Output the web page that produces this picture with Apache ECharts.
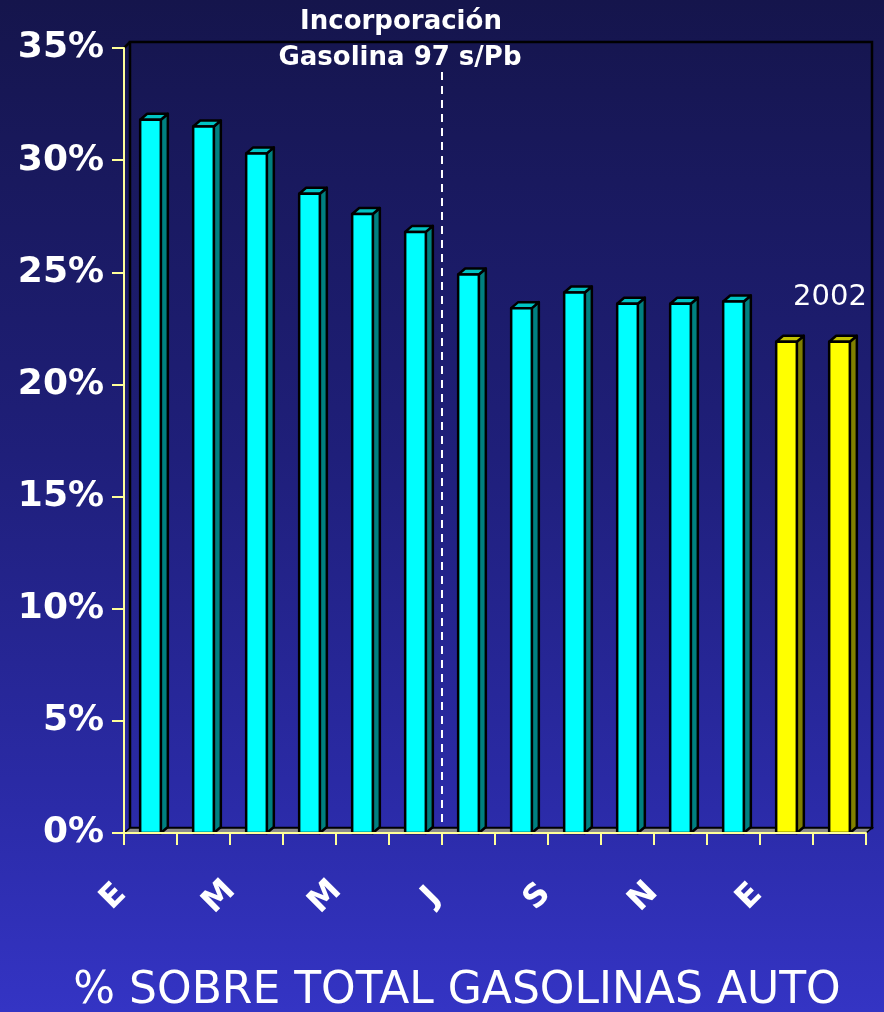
<!DOCTYPE html>
<html>
<head>
<meta charset="utf-8">
<script src="https://cdn.jsdelivr.net/npm/echarts@6/dist/echarts.min.js"></script>
<style>
html,body{margin:0;padding:0;background:#1a1a5a;}
#chart{width:884px;height:1012px;}
</style>
</head>
<body>
<div id="chart"></div>
<script>
// ---- data ----
const months = ['E','F','M','A','M','J','J','A','S','O','N','D','E','F'];
const years  = [2001,2001,2001,2001,2001,2001,2001,2001,2001,2001,2001,2001,2002,2002];
const shares = [31.8,31.5,30.3,28.5,27.6,26.8,24.9,23.4,24.1,23.6,23.6,23.7,21.9,21.9];
const yTicks = [0,5,10,15,20,25,30,35];
const annotation = ['Incorporación','Gasolina 97 s/Pb'];
const yearLabel = '2002';
const footer = '% SOBRE TOTAL GASOLINAS AUTO';
const markAfterIndex = 5; // dashed line after June ("J")

// ---- styles ----
const palette = {
  2001: {front:'#00ffff', side:'#008080', top:'#00c4c4'},
  2002: {front:'#ffff00', side:'#808000', top:'#c4c400'}
};
const FONT = 'DejaVu Sans';
const AXIS_YELLOW = '#ffff99';

const chart = echarts.init(document.getElementById('chart'), null, {renderer:'canvas'});

function barItem(params, api){
  const i = api.value(0), v = api.value(1);
  const t = api.coord([i, v]);
  const b = api.coord([i, 0]);
  const bw = api.size([1,0])[0]*0.39;
  const L = t[0]-bw/2, R = t[0]+bw/2, T = t[1], B = b[1];
  const dx = 7, dy = 6;
  const c = palette[years[params.dataIndex]];
  const stroke = {stroke:'#000', lineWidth:2.5, lineJoin:'round'};
  return {type:'group', children:[
    {type:'polygon', shape:{points:[[R,T],[R+dx,T-dy],[R+dx,B-dy],[R,B]]}, style:Object.assign({fill:c.side}, stroke)},
    {type:'polygon', shape:{points:[[L,T],[L+dx,T-dy],[R+dx,T-dy],[R,T]]}, style:Object.assign({fill:c.top}, stroke)},
    {type:'rect', shape:{x:L, y:T, width:bw, height:B-T}, style:Object.assign({fill:c.front}, stroke)}
  ]};
}

function decoItem(params, api){
  const cs = params.coordSys;
  const x0 = cs.x, y0 = cs.y, w = cs.width, h = cs.height, yb = y0+h;
  const d = 6;
  const xd = api.coord([markAfterIndex, 0])[0] + api.size([1,0])[0]/2;
  return {type:'group', children:[
    {type:'polygon', shape:{points:[[x0,yb],[x0+w,yb],[x0+w+d,yb-5],[x0+d,yb-5]]},
      style:{fill:'#8c8c8c', stroke:'#000', lineWidth:1.5}},
    {type:'line', shape:{x1:x0, y1:y0, x2:x0+d, y2:y0-d}, style:{stroke:'#000', lineWidth:2.5}},
    {type:'line', shape:{x1:xd, y1:y0+24, x2:xd, y2:yb-5},
      style:{stroke:'#ffffff', lineWidth:2, lineDash:[8,6]}}
  ]};
}

const option = {
  backgroundColor: {
    type:'linear', x:0, y:0, x2:0, y2:1,
    colorStops:[
      {offset:0, color:'#15154c'},
      {offset:0.45, color:'#1f1f7a'},
      {offset:0.8, color:'#2b2ba8'},
      {offset:1, color:'#3434c4'}
    ]
  },
  animation:false,
  grid:[
    {left:124, top:48, width:742, height:785},
    {left:87, top:48, width:742, height:785},
    {left:130, top:42, width:742, height:786, show:true, borderColor:'#000', borderWidth:2.5, backgroundColor:'transparent'}
  ],
  xAxis:[
    {type:'category', gridIndex:0, data:months, z:10,
      axisLine:{show:true, lineStyle:{color:AXIS_YELLOW, width:2}},
      axisTick:{show:true, length:12, lineStyle:{color:AXIS_YELLOW, width:2}},
      axisLabel:{show:false}, splitLine:{show:false}},
    {type:'category', gridIndex:1, data:months,
      axisLine:{show:false}, axisTick:{show:false},
      axisLabel:{show:true, interval:1, rotate:45, margin:64, align:'center', verticalAlign:'middle',
        color:'#ffffff', fontFamily:FONT, fontWeight:'bold', fontSize:32},
      splitLine:{show:false}},
    {type:'category', gridIndex:2, data:months, show:false}
  ],
  yAxis:[
    {type:'value', gridIndex:0, min:yTicks[0], max:yTicks[yTicks.length-1], interval:5, z:10,
      axisLine:{show:true, lineStyle:{color:AXIS_YELLOW, width:2}},
      axisTick:{show:true, length:12, lineStyle:{color:AXIS_YELLOW, width:2}},
      axisLabel:{show:true, margin:20, formatter:'{value}%', color:'#ffffff',
        fontFamily:FONT, fontWeight:'bold', fontSize:36},
      splitLine:{show:false}},
    {type:'value', gridIndex:1, min:0, max:35, show:false},
    {type:'value', gridIndex:2, min:0, max:35, show:false}
  ],
  series:[
    {type:'custom', name:'deco', xAxisIndex:0, yAxisIndex:0, z:1, silent:true,
      renderItem:decoItem, data:[[0,0]]},
    {type:'custom', name:'share', xAxisIndex:0, yAxisIndex:0, z:3,
      renderItem:barItem, data:shares.map((v,i)=>[i,v])}
  ],
  graphic:[
    {type:'text', z:20, style:{text:annotation[0], x:401, y:22, align:'center', verticalAlign:'middle',
      fill:'#ffffff', font:'bold 26px "'+FONT+'"'}},
    {type:'text', z:20, style:{text:annotation[1], x:400, y:58, align:'center', verticalAlign:'middle',
      fill:'#ffffff', font:'bold 26px "'+FONT+'"'}},
    {type:'text', z:20, style:{text:yearLabel, x:830, y:297, align:'center', verticalAlign:'middle',
      fill:'#ffffff', font:'29px "'+FONT+'"'}},
    {type:'text', z:20, style:{text:footer, x:457, y:992, align:'center', verticalAlign:'middle',
      fill:'#ffffff', font:'44px "'+FONT+'"'}}
  ]
};
chart.setOption(option);
</script>
</body>
</html>
